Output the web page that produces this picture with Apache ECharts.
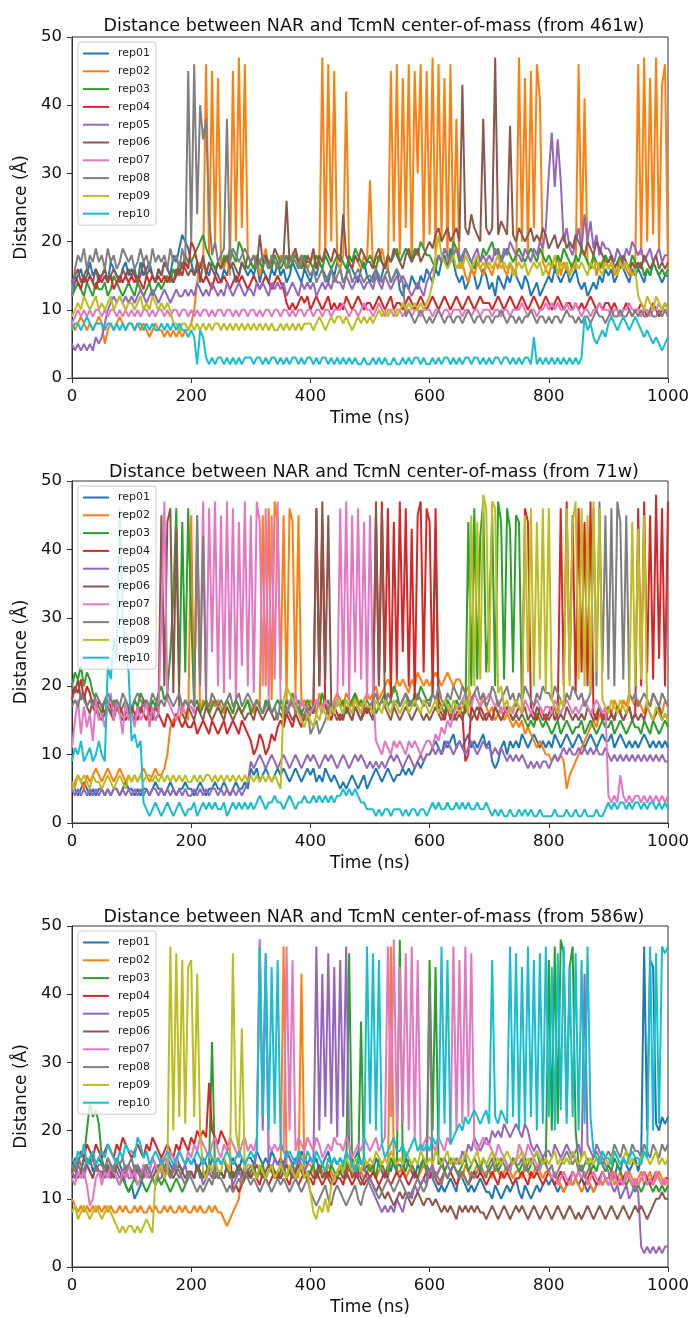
<!DOCTYPE html>
<html>
<head>
<meta charset="utf-8">
<script src="https://cdn.jsdelivr.net/npm/echarts@6/dist/echarts.min.js"></script>
<style>
html,body{margin:0;padding:0;background:#fff;}
#chart{width:696px;height:1318px;}
</style>
</head>
<body>
<div id="chart"></div>
<script>
// ---------- data ----------
const repNames = ['rep01','rep02','rep03','rep04','rep05','rep06','rep07','rep08','rep09','rep10'];
const panelTitles = [
  'Distance between NAR and TcmN center-of-mass (from 461w)',
  'Distance between NAR and TcmN center-of-mass (from 71w)',
  'Distance between NAR and TcmN center-of-mass (from 586w)'
];
const xTicks = [0,200,400,600,800,1000];
const yTicks = [0,10,20,30,40,50];
const times = [0,5,10,15,20,25,30,35,40,45,50,55,60,65,70,75,80,85,90,95,100,105,110,115,120,125,130,135,140,145,150,155,160,165,170,175,180,185,190,195,200,205,210,215,220,225,230,235,240,245,250,255,260,265,270,275,280,285,290,295,300,305,310,315,320,325,330,335,340,345,350,355,360,365,370,375,380,385,390,395,400,405,410,415,420,425,430,435,440,445,450,455,460,465,470,475,480,485,490,495,500,505,510,515,520,525,530,535,540,545,550,555,560,565,570,575,580,585,590,595,600,605,610,615,620,625,630,635,640,645,650,655,660,665,670,675,680,685,690,695,700,705,710,715,720,725,730,735,740,745,750,755,760,765,770,775,780,785,790,795,800,805,810,815,820,825,830,835,840,845,850,855,860,865,870,875,880,885,890,895,900,905,910,915,920,925,930,935,940,945,950,955,960,965,970,975,980,985,990,995,1000];

// panel 1 : from 461w
const a461_01 = [12,14,15,16,14,15,17,15,16,14, 15,16,14,17,16,15,14,16,17,15, 16,15,14,17,15,16,17,15,14,16, 15,17,16,15,18,17,19,21,20,19, 17,15,16,14,17,16,15,17,16,15, 14,16,15,17,16,14,15,17,16,15, 16,15,17,14,16,15,14,16,15,17, 15,16,14,15,17,16,15,14,16,15, 14,16,15,17,16,15,14,16,15,17, 16,14,15,17,16,15,14,16,17,15, 14,15,16,14,15,17,16,14,15,16, 13,12,14,13,15,14,13,15,14,16, 15,14,16,15,17,18,16,19,17,15, 14,15,13,14,16,15,13,14,16,15, 13,14,12,15,14,13,15,14,16,15, 14,13,15,14,12,13,14,12,13,14, 15,14,16,15,14,15,16,14,15,16, 14,13,14,12,13,14,13,15,14,16, 15,16,14,15,17,16,15,14,16,15, 16,15,14,16,15,17,16,15,14,15, 15];
const a461_02 = [8,7,8,9,8,7,8,7,8,9, 8,5,7,8,7,8,9,8,7,8, 8,7,8,7,8,7,6,7,8,7, 7,6,7,6,7,6,7,6,7,7, 8,10,14,17,16,46,18,45,20,44, 17,16,18,15,45,20,47,22,46,18, 17,16,18,15,17,19,16,18,17,16, 18,17,16,18,17,19,16,17,18,16, 17,18,16,17,47,18,46,20,45,17, 16,18,42,17,16,18,17,16,18,17, 29,16,18,17,19,17,16,45,20,46, 18,44,22,46,17,45,30,46,19,45, 21,47,18,46,20,44,17,46,18,38, 16,17,15,14,16,15,17,16,15,17, 16,15,17,16,18,16,15,17,16,15, 47,20,44,18,45,22,46,41,17,16, 15,17,16,18,15,17,16,15,17,16, 46,18,41,17,16,18,15,17,16,18, 16,17,15,16,18,17,16,15,17,16, 46,18,47,20,44,21,47,19,43,46, 16];
const a461_03 = [12,13,14,13,12,14,13,12,14,13, 13,14,12,13,15,14,13,12,13,14, 13,12,14,13,12,13,14,12,13,14, 13,14,15,14,16,15,17,16,18,17, 17,18,19,20,21,19,18,17,16,17, 16,18,17,19,18,17,20,19,17,16, 17,16,18,17,16,18,17,16,18,17, 16,17,18,16,17,18,17,16,18,17, 17,16,18,17,16,18,17,16,17,18, 18,17,16,18,17,19,18,17,16,17, 18,17,16,18,17,16,18,17,18,19, 17,18,19,18,17,19,18,20,19,18, 18,17,16,18,17,19,18,17,20,19, 17,18,19,18,17,16,18,17,19,18, 19,20,18,19,17,18,19,18,17,18, 19,18,17,18,19,18,17,19,18,17, 18,17,16,18,17,19,18,17,16,18, 17,19,18,17,16,18,17,16,17,18, 17,18,16,17,18,16,17,16,18,17, 16,17,15,16,15,17,16,15,16,15, 16];
const a461_04 = [14,15,14,13,15,14,15,14,13,15, 14,15,14,15,13,14,15,14,15,14, 15,14,15,14,13,15,14,15,14,15, 14,15,14,15,14,15,16,15,17,16, 20,19,17,15,14,15,14,13,15,14, 14,15,14,13,14,15,14,15,14,13, 14,15,14,13,14,15,14,13,14,15, 14,13,11,10,11,10,11,12,11,12, 10,11,12,11,10,11,12,10,11,10, 11,10,12,11,10,11,12,11,10,11, 11,10,11,12,11,10,11,12,10,11, 11,10,11,12,11,10,11,12,11,10, 11,12,11,10,11,12,11,10,11,12, 11,10,11,12,11,10,11,12,11,11, 11,10,11,12,11,10,11,12,11,10, 11,12,11,10,11,12,11,10,11,12, 11,10,11,12,11,10,11,11,10,11, 10,11,10,11,12,11,10,11,10,11, 11,10,11,10,9,10,11,10,9,10, 10,11,10,9,10,11,10,9,10,11, 10];
const a461_05 = [5,4,5,4,5,4,5,4,6,5, 6,8,10,11,12,11,12,11,12,11, 12,11,12,13,12,11,12,13,12,11, 12,13,12,11,12,13,12,12,13,12, 13,12,14,13,12,13,12,14,13,12, 13,12,14,13,12,13,14,13,12,13, 13,12,14,13,14,13,12,14,13,14, 13,14,12,13,14,13,12,14,13,14, 13,14,12,13,14,13,14,13,15,14, 14,13,15,14,13,14,15,14,13,14, 14,13,15,14,13,15,14,13,14,15, 14,15,14,13,12,13,14,13,12,14, 15,16,17,18,17,19,18,17,18,19, 18,17,19,18,17,18,19,17,18,17, 18,17,19,18,17,19,18,20,19,18, 18,17,19,18,17,19,18,20,19,22, 30,36,28,35,29,20,22,19,18,20, 22,19,24,20,23,19,21,18,20,19, 19,18,17,19,18,17,19,18,20,19, 18,19,17,18,19,17,18,19,17,18, 18];
const a461_06 = [14,15,16,14,15,16,15,14,16,15, 15,16,14,15,16,15,14,16,15,16, 15,16,14,15,17,15,16,15,14,16, 15,17,16,15,14,16,15,17,16,15, 16,15,17,16,18,15,17,16,15,17, 16,17,18,16,17,16,15,17,16,18, 17,18,16,21,17,18,16,17,19,18, 17,18,26,17,18,19,17,18,16,18, 17,19,16,18,17,19,18,17,19,18, 17,24,18,17,16,18,17,19,18,17, 17,16,18,19,17,16,18,17,19,18, 17,16,18,19,17,18,19,17,18,19, 20,19,21,22,20,21,22,20,21,22, 20,43,22,21,24,22,21,20,38,22, 21,22,47,21,23,22,21,37,21,20, 22,21,20,21,22,20,21,20,22,21, 19,20,21,19,20,21,19,20,19,21, 20,19,18,20,19,18,20,19,18,17, 17,18,16,17,16,18,17,16,17,16, 17,16,18,17,16,17,18,16,17,16, 17];
const a461_07 = [8,9,10,9,10,9,10,9,10,10, 9,10,9,10,10,9,10,9,10,9, 10,9,10,9,10,10,9,10,9,10, 10,9,10,9,10,10,9,10,10,9, 10,9,10,9,10,10,9,10,9,10, 10,9,10,10,9,10,9,10,10,9, 10,10,9,10,9,10,10,9,10,10, 9,10,10,9,10,9,10,10,9,10, 10,9,10,10,9,10,10,9,10,10, 10,11,10,9,10,10,9,10,11,10, 10,9,10,11,10,9,10,10,9,10, 10,9,10,10,9,10,10,9,10,10, 10,9,10,10,9,10,10,9,10,10, 10,9,10,10,9,10,10,9,10,10, 10,9,10,10,9,10,10,9,10,10, 10,11,10,9,10,10,9,10,10,11, 10,11,10,11,10,10,11,10,10,11, 10,9,10,10,9,10,10,11,10,10, 10,9,10,10,9,10,10,11,10,10, 10,9,10,10,9,10,10,11,10,10, 10];
const a461_08 = [12,16,18,17,19,16,18,17,19,17, 18,16,19,17,18,16,17,19,18,17, 18,16,17,19,17,18,16,19,17,18, 17,18,16,19,17,18,16,19,17,45, 20,46,24,40,35,38,24,18,20,17, 18,19,38,17,19,18,17,18,19,18, 17,18,16,17,18,17,16,18,17,16, 17,18,16,17,18,17,16,18,17,16, 15,16,14,15,16,14,15,16,14,15, 16,14,15,16,14,15,16,15,14,15, 15,14,16,15,14,15,16,14,15,16, 15,14,9,10,9,8,9,10,9,8, 9,8,9,10,9,8,9,9,8,9, 9,8,9,10,9,8,9,9,8,9, 9,8,9,9,10,9,8,9,9,8, 9,8,9,9,10,9,8,9,9,8, 9,8,9,9,8,9,10,9,9,8, 9,8,9,9,8,9,10,9,9,8, 9,10,9,9,10,9,9,10,9,10, 9,10,9,9,10,9,9,10,9,10, 9];
const a461_09 = [9,10,11,10,12,11,10,11,12,10, 11,10,11,12,10,11,12,11,10,11, 11,10,11,12,10,11,10,12,11,10, 11,10,11,10,8,8,7,8,8,7, 8,7,8,7,8,7,8,7,8,8, 7,8,7,8,7,8,7,8,7,8, 7,8,7,8,7,8,7,8,7,7, 8,7,8,7,8,7,8,7,8,8, 8,7,8,9,8,7,8,9,8,9, 9,8,9,8,7,8,9,8,9,8, 9,8,9,10,9,10,9,10,10,9, 10,11,10,11,10,11,10,11,10,11, 12,14,18,21,18,17,16,17,18,16, 17,16,18,17,16,17,18,16,17,16, 17,16,17,18,16,17,16,17,15,16, 17,16,17,15,16,17,16,17,15,16, 17,16,18,15,17,16,17,15,16,17, 16,17,16,15,17,16,17,16,15,17, 16,17,16,15,17,16,17,16,15,16, 12,11,10,12,11,10,12,11,10,11, 10];
const a461_10 = [7,8,8,7,8,9,8,7,8,8, 8,7,8,8,7,8,7,8,7,8, 8,7,8,8,7,8,7,8,7,7, 8,7,8,7,8,7,8,7,7,6, 7,6,2,7,6,3,2,3,2,3, 3,2,3,2,3,2,3,2,3,3, 3,2,3,3,2,3,2,3,3,2, 3,2,3,2,3,3,2,3,2,3, 3,2,3,2,3,3,2,3,2,3, 2,3,2,3,2,3,2,2,3,2, 2,3,2,3,2,3,2,2,3,2, 2,3,2,3,2,3,3,2,3,2, 2,3,2,3,2,3,3,2,3,2, 3,2,3,3,2,3,3,2,3,2, 3,2,3,3,2,3,3,2,3,2, 3,2,3,3,2,6,2,3,2,3, 2,3,2,3,2,3,2,3,2,3, 2,3,9,7,8,6,5,6,7,6, 8,9,8,7,8,9,8,7,8,9, 8,7,6,7,6,5,6,5,4,5, 6];

// panel 2 : from 71w
const a71_01 = [6,5,4,5,6,5,4,5,4,5, 5,4,5,4,5,5,4,5,6,5, 5,4,5,4,5,5,4,5,6,5, 5,4,5,6,5,4,5,5,6,5, 5,4,5,6,5,4,5,5,6,5, 5,6,5,4,5,6,5,5,6,5, 8,7,8,6,7,8,7,6,7,8, 7,8,7,6,7,8,7,6,7,8, 7,8,6,7,6,8,7,6,7,6, 5,6,5,6,7,6,5,6,7,5, 6,7,8,7,6,7,8,7,6,7, 7,8,7,8,7,8,9,8,9,10, 10,11,12,11,10,12,11,12,13,11, 12,11,12,13,11,12,11,12,13,11, 12,9,8,9,11,12,10,12,11,12, 11,13,12,11,12,13,12,11,12,11, 12,11,13,12,11,12,13,12,11,12, 13,12,11,12,13,12,11,12,13,12, 12,13,11,12,13,12,11,12,11,12, 11,12,13,12,11,12,11,12,11,12, 11];
const a71_02 = [5,6,7,6,5,7,6,7,8,7, 6,7,8,7,6,7,8,7,6,7, 6,7,6,7,8,7,6,7,8,7, 7,8,10,14,15,16,15,17,16,15, 45,17,41,16,18,17,16,18,17,18, 17,16,18,17,16,18,17,16,17,18, 17,16,18,17,45,20,46,18,47,44, 21,45,18,46,44,19,45,17,18,17, 18,17,16,19,17,18,16,17,18,19, 18,17,19,18,17,19,18,17,18,19, 18,19,20,18,19,20,21,20,19,21, 20,21,20,19,21,20,22,21,20,21, 20,21,22,21,20,21,22,21,20,21, 21,20,19,20,18,19,18,17,18,17, 16,17,15,16,17,15,16,15,14,15, 14,15,13,14,13,12,11,12,11,10, 10,9,10,9,10,9,5,7,8,9, 10,11,12,13,14,15,14,16,15,16, 17,16,18,17,16,18,17,19,18,17, 18,17,16,18,17,19,18,17,16,18, 17];
const a71_03 = [20,22,21,23,20,22,21,19,18,17, 16,18,17,16,18,17,16,17,18,16, 16,18,17,19,18,17,16,18,17,19, 20,18,19,25,33,46,20,44,22,46, 30,17,18,16,17,18,16,17,18,17, 16,17,18,17,16,18,17,16,17,18, 16,17,18,17,16,18,17,16,17,18, 17,16,18,17,19,17,18,16,17,18, 17,16,18,17,19,17,18,16,17,18, 17,18,16,17,18,19,17,18,17,16, 17,18,16,17,18,19,17,18,20,19, 17,18,19,18,17,19,18,20,19,18, 18,19,43,18,17,16,18,17,16,18, 17,18,16,44,20,46,21,42,47,22, 30,45,20,47,44,21,46,43,22,45, 44,16,15,14,15,14,16,15,14,15, 14,13,14,15,13,14,15,14,13,14, 14,15,13,14,15,14,13,14,15,14, 14,15,13,14,15,14,13,14,15,14, 14,13,15,14,13,15,14,13,14,15, 14];
const a71_04 = [18,20,19,21,18,20,19,17,16,18, 17,16,18,17,16,18,17,16,15,16, 17,16,15,17,16,15,17,16,15,16, 15,14,16,15,14,16,15,14,15,14, 14,15,13,14,15,14,13,15,14,13, 14,15,13,14,15,14,13,15,14,13, 12,10,11,13,12,10,11,13,12,14, 15,14,16,15,14,16,15,14,16,15, 16,17,46,20,44,17,16,15,17,16, 15,16,17,16,15,17,16,15,17,16, 17,16,45,20,47,22,46,18,44,21, 47,25,46,20,43,18,45,47,22,46, 44,19,46,17,16,15,17,16,15,16, 17,16,9,10,17,16,15,17,16,15, 16,15,17,16,15,16,17,16,15,16, 17,16,46,44,17,16,15,17,16,15, 16,17,15,16,46,20,47,21,45,19, 46,22,44,20,47,16,15,17,16,15, 17,16,15,17,16,15,16,17,15,16, 46,20,47,22,45,21,48,24,46,20, 47];
const a71_05 = [5,4,5,4,5,4,5,4,5,4, 5,4,5,4,5,5,4,5,4,5, 4,5,4,5,4,5,4,5,5,4, 5,4,5,4,5,4,5,4,5,4, 4,5,4,5,4,5,4,5,5,4, 5,4,5,4,5,4,5,4,5,6, 9,8,9,10,9,8,9,10,9,8, 9,10,9,8,9,10,9,8,9,10, 9,10,9,8,9,10,9,10,9,8, 9,10,9,8,9,10,9,10,9,8, 9,8,9,8,9,8,9,10,9,10, 9,8,9,10,9,8,9,10,9,10, 10,11,10,11,10,11,12,11,10,11, 12,11,10,11,12,11,10,11,12,11, 11,10,11,10,11,10,9,10,9,10, 9,10,9,8,9,8,9,8,9,9, 8,9,10,9,10,11,10,11,10,10, 11,10,11,10,11,10,11,10,10,11, 10,9,10,9,10,9,10,9,10,9, 10,9,10,9,10,9,10,9,10,9, 9];
const a71_06 = [20,19,21,18,19,17,16,18,17,16, 15,16,17,16,15,17,16,15,16,17, 16,15,17,16,18,17,16,15,17,16, 45,20,44,46,19,43,17,16,15,17, 16,15,17,16,15,17,16,15,16,17, 16,15,17,16,15,16,17,16,15,16, 16,15,17,16,15,16,17,16,15,16, 16,15,17,16,15,16,17,16,15,16, 17,16,46,20,47,21,45,17,16,15, 16,15,17,16,15,17,16,15,16,17, 16,15,47,20,46,17,16,15,17,16, 15,16,17,16,15,16,17,16,15,16, 15,16,17,16,15,16,17,15,16,15, 16,15,17,16,15,16,17,16,15,16, 16,15,17,16,15,16,17,16,15,16, 15,16,17,15,16,15,17,16,15,16, 15,16,17,15,16,15,17,16,15,16, 15,16,15,17,16,15,16,17,15,16, 15,16,15,17,16,15,16,17,15,16, 15,16,15,17,16,15,16,17,15,16, 15];
const a71_07 = [11,15,18,13,17,14,16,12,18,15, 16,14,17,19,15,18,16,13,18,15, 16,14,17,15,16,18,14,17,15,16, 30,47,18,17,16,15,17,16,18,17, 17,16,45,22,47,18,46,25,47,20, 45,19,47,21,46,18,44,23,47,20, 45,19,47,44,20,46,18,45,21,47, 18,17,16,18,17,19,16,18,17,16, 16,17,18,17,16,18,17,16,18,17, 46,20,47,18,45,22,46,21,44,18, 45,20,12,11,10,12,11,10,12,11, 12,11,10,12,11,12,11,10,11,12, 12,11,13,12,14,13,15,14,16,17, 17,18,19,18,17,19,18,17,19,18, 19,18,17,18,16,17,16,17,16,18, 17,16,18,17,16,17,18,17,16,17, 17,16,18,17,16,17,18,17,16,17, 16,17,18,17,16,17,18,17,16,17, 4,3,4,3,7,4,3,4,3,4, 4,3,4,3,4,3,4,3,4,3, 4];
const a71_08 = [17,18,17,19,18,17,18,17,19,18, 17,18,19,18,17,18,17,19,18,17, 17,18,19,18,17,18,17,19,18,17, 18,17,19,18,17,18,19,17,18,17, 18,17,45,20,42,18,17,19,18,17, 18,17,18,19,17,18,19,17,18,19, 18,17,18,17,16,17,18,16,17,15, 18,17,16,17,18,16,17,15,16,17, 13,14,15,13,14,15,17,16,17,18, 17,16,18,17,16,18,17,16,17,18, 17,18,19,17,18,17,19,18,17,18, 17,18,19,17,18,17,19,18,17,18, 17,19,18,20,18,17,19,18,20,19, 18,20,19,17,18,19,20,18,19,17, 18,20,19,17,18,19,20,18,19,17, 19,18,20,19,18,17,19,18,20,19, 19,18,20,19,18,17,19,18,20,19, 18,19,17,18,19,46,20,47,22,45, 21,46,20,47,44,21,45,19,18,19, 17,18,19,18,17,19,18,17,19,18, 17];
const a71_09 = [6,5,7,6,7,6,5,7,6,6, 5,6,7,6,5,6,7,6,5,7, 6,7,6,7,6,7,7,6,7,6, 7,6,7,6,7,6,7,6,7,6, 6,7,6,7,6,7,7,6,7,6, 7,6,7,6,7,6,7,6,7,6, 7,6,7,6,7,6,7,6,7,6, 5,18,20,19,18,17,16,15,14,16, 15,14,16,15,17,16,15,17,16,18, 17,16,18,17,16,18,17,16,18,17, 17,16,18,17,16,18,17,16,18,17, 16,17,18,16,17,18,17,16,18,17, 16,17,18,16,17,18,17,16,18,17, 16,17,18,16,45,20,44,21,48,46, 22,47,46,19,20,17,18,16,17,18, 17,16,45,22,46,20,44,21,46,19, 46,18,17,16,18,17,46,20,44,47, 21,46,20,45,19,47,22,46,18,17, 16,18,17,16,18,17,16,18,44,20, 43,21,45,17,16,15,17,16,15,16, 15];
const a71_10 = [9,11,10,12,9,10,11,9,10,12, 10,9,23,21,27,24,46,30,25,22, 12,13,11,12,3,2,1,2,3,2, 1,2,3,2,1,2,3,2,1,2, 2,3,1,2,3,2,3,2,3,2, 2,3,1,2,3,2,3,2,3,2, 3,2,3,4,3,2,3,3,4,3, 3,2,3,4,3,2,3,3,4,3, 3,4,3,4,3,4,3,4,3,4, 4,5,4,5,4,5,4,3,3,2, 2,2,1,2,1,2,2,1,2,2, 2,1,2,1,2,2,1,2,2,1, 2,3,2,3,2,2,3,2,2,3, 2,3,2,3,2,2,3,2,2,3, 2,1,2,1,2,1,1,2,1,1, 2,1,2,1,2,1,1,2,1,1, 1,1,2,1,1,1,2,1,1,2, 1,1,2,1,1,1,2,1,1,2, 3,2,3,2,3,3,2,3,2,3, 3,2,3,2,3,3,2,3,2,3, 2];

// panel 3 : from 586w
const a586_01 = [15,14,16,15,14,15,16,14,15,16, 15,14,16,15,14,16,15,14,12,11, 12,10,11,12,14,15,14,16,15,14, 15,14,16,15,14,16,15,14,15,16, 15,16,14,15,16,15,14,16,15,16, 15,16,14,15,16,15,14,16,15,16, 16,15,17,16,15,16,15,17,16,15, 16,15,17,16,15,16,15,17,16,15, 16,15,16,14,15,16,17,15,16,15, 16,15,16,14,15,16,17,15,16,15, 15,14,16,15,14,13,15,14,16,15, 15,14,16,15,14,13,15,14,16,15, 14,13,12,11,12,11,12,13,12,11, 14,13,12,11,12,11,12,13,12,11, 11,10,12,11,10,11,12,11,12,13, 11,10,12,11,10,11,12,11,12,13, 12,13,12,11,12,11,12,13,12,13, 12,13,12,11,12,11,12,13,12,13, 13,14,13,15,14,16,15,14,15,16, 14,16,47,20,45,44,21,20,22,21, 22];
const a586_02 = [10,9,8,9,8,9,8,9,8,9, 8,9,8,9,8,8,9,8,9,8, 8,9,8,9,8,8,9,8,9,8, 8,9,8,9,8,8,9,8,9,8, 8,9,8,9,8,8,9,8,9,8, 8,7,6,7,8,9,10,14,13,14, 14,15,13,14,15,13,14,15,14,13, 14,47,15,14,15,14,13,43,14,15, 15,14,13,15,14,13,15,14,13,14, 15,14,13,15,14,13,15,14,13,14, 15,14,13,14,15,14,13,47,15,14, 14,15,13,14,15,14,13,14,15,14, 14,15,13,14,15,14,13,14,15,14, 14,13,15,14,13,14,15,14,13,14, 14,13,15,14,13,14,15,14,13,14, 14,13,15,14,13,14,15,14,13,14, 14,13,12,13,12,11,12,13,12,13, 12,11,12,13,12,11,12,13,12,13, 13,14,12,13,14,12,13,14,13,12, 13,14,12,13,14,12,13,14,13,12, 13];
const a586_03 = [14,13,15,14,16,20,24,22,23,21, 16,14,15,13,14,13,12,13,12,11, 12,13,12,13,12,11,12,13,12,13, 12,13,12,11,12,13,12,11,12,13, 14,13,15,13,14,13,15,33,14,13, 14,13,15,13,14,13,15,14,14,13, 14,15,13,14,15,13,14,15,14,13, 14,15,13,14,15,13,14,15,14,13, 14,15,13,14,15,14,13,15,14,13, 14,15,13,46,15,14,13,36,14,15, 14,15,13,16,15,14,13,16,15,14, 48,15,14,16,15,14,13,15,16,14, 45,20,44,15,16,14,15,16,15,14, 14,15,16,14,15,16,15,14,16,15, 14,15,16,14,15,16,15,14,16,15, 14,15,16,14,15,16,17,15,16,15, 45,20,47,21,48,46,22,44,47,20, 15,14,15,16,14,15,14,16,15,14, 15,14,16,15,14,13,12,13,12,11, 12,11,12,13,12,11,12,11,12,11, 12];
const a586_04 = [14,16,15,17,16,18,17,16,18,17, 16,17,18,17,16,18,17,19,18,17, 16,17,18,17,16,18,17,19,18,17, 16,17,18,17,16,18,17,19,18,17, 19,18,20,19,20,19,27,20,19,18, 20,19,18,17,11,12,11,12,13,14, 13,14,13,12,14,13,12,13,14,13, 13,14,13,12,14,13,12,13,14,13, 13,12,14,13,12,13,14,13,12,13, 13,12,14,13,12,13,14,13,12,13, 13,14,13,12,13,14,13,12,13,14, 13,14,13,12,13,14,13,12,13,14, 13,14,13,12,13,14,13,14,13,12, 13,14,13,12,13,14,13,14,13,12, 13,14,13,12,14,13,14,13,12,13, 13,14,13,12,14,13,14,13,12,13, 14,13,12,13,14,13,12,13,14,13, 14,13,12,13,14,13,12,13,14,13, 12,13,14,13,12,13,14,13,12,13, 12,13,14,13,12,13,14,13,12,13, 13];
const a586_05 = [14,13,15,14,13,15,14,13,15,14, 13,15,14,13,15,14,13,14,15,13, 13,15,14,13,15,14,13,14,15,13, 13,15,14,13,15,14,13,14,15,13, 14,13,15,14,12,13,14,13,15,14, 14,13,15,14,12,13,14,13,15,14, 15,14,17,48,20,44,15,14,16,15, 15,14,17,16,15,14,16,15,14,15, 16,15,47,20,43,22,46,21,44,19, 45,22,47,18,14,15,13,14,15,13, 12,11,10,9,8,9,8,9,8,10, 9,8,10,11,10,12,11,12,13,12, 14,15,13,14,15,16,15,14,15,16, 15,17,16,18,17,19,18,17,18,19, 18,20,19,20,19,21,20,19,20,21, 20,19,21,20,18,17,18,17,16,17, 17,16,18,17,16,17,18,17,16,17, 18,16,43,18,17,16,18,17,16,15, 14,12,11,12,10,11,12,10,11,12, 11,3,2,3,2,3,2,3,2,3, 3];
const a586_06 = [14,15,13,14,16,15,14,13,15,14, 14,13,15,14,13,15,14,13,14,15, 14,13,15,14,13,15,14,13,14,15, 14,13,15,14,13,14,15,14,13,14, 14,13,15,14,13,14,15,14,13,14, 14,13,15,14,13,14,15,14,13,14, 13,14,15,14,13,14,15,14,13,14, 13,14,15,14,13,14,15,14,13,14, 14,13,14,15,13,14,13,12,13,14, 14,13,14,15,13,14,13,12,13,14, 13,12,11,12,11,10,11,10,9,10, 11,10,11,10,9,10,11,10,9,10, 10,9,10,9,8,9,8,9,8,7, 9,8,9,8,9,8,9,8,8,7, 8,9,8,7,8,9,8,7,8,9, 8,9,8,7,8,9,8,7,8,9, 8,7,8,9,8,7,8,9,8,7, 8,7,8,9,8,7,8,9,8,7, 8,9,8,7,8,9,8,7,8,9, 8,9,8,7,8,9,10,10,11,10, 10];
const a586_07 = [13,12,14,13,14,12,9,10,13,14, 12,14,13,15,14,13,12,14,13,15, 13,14,12,13,15,13,14,16,15,14, 14,16,15,17,16,15,17,16,15,17, 16,18,17,19,18,17,16,18,19,17, 16,18,17,19,18,17,16,18,19,17, 18,17,19,48,22,46,18,17,18,17, 18,17,47,20,45,17,19,18,17,19, 18,17,19,18,16,17,18,17,19,18, 18,17,19,18,16,17,18,17,19,18, 17,18,19,17,18,19,47,22,48,20, 44,21,46,20,47,19,45,17,18,19, 19,18,17,19,18,17,19,18,47,20, 45,21,47,22,46,18,17,18,19,18, 18,17,16,18,17,16,15,14,16,15, 18,17,16,18,17,16,15,14,16,15, 14,13,14,12,13,14,13,12,14,13, 14,13,14,12,13,14,13,12,14,13, 12,13,14,12,13,12,14,13,12,13, 12,13,14,12,13,12,14,13,12,13, 12];
const a586_08 = [15,14,16,15,14,16,15,16,14,15, 15,14,16,15,14,16,15,16,14,15, 16,14,15,13,14,15,14,13,12,14, 16,14,15,13,14,15,14,13,12,14, 13,12,11,12,11,12,13,12,14,13, 13,12,11,12,11,12,13,12,14,13, 12,13,12,11,12,13,12,11,12,13, 12,13,12,11,12,13,12,11,12,13, 11,10,9,10,11,12,10,9,11,12, 11,10,9,10,11,12,10,9,11,12, 13,12,11,10,11,12,13,12,11,12, 13,12,11,10,11,12,13,12,11,12, 41,13,14,13,12,14,13,14,15,14, 13,14,13,12,14,13,14,15,14,13, 15,16,14,15,16,15,14,15,16,15, 15,16,14,15,16,15,14,15,16,15, 14,15,13,14,15,16,17,16,15,16, 14,15,13,14,15,16,17,16,15,16, 17,16,18,17,16,18,17,16,18,17, 17,16,18,17,16,18,17,16,18,17, 18];
const a586_09 = [8,9,7,8,9,8,7,8,9,8, 7,8,9,8,7,6,5,6,5,6, 6,5,6,5,6,7,6,5,13,14, 15,13,14,47,20,46,22,45,21,44, 45,22,43,20,14,13,15,14,16,14, 14,16,15,14,46,20,17,35,14,15, 15,14,13,15,14,13,14,15,13,14, 15,14,13,15,14,13,14,15,13,14, 11,8,7,9,8,10,8,12,13,14, 15,14,16,15,14,16,15,14,16,15, 16,15,17,16,15,16,15,17,16,15, 16,15,17,16,15,16,15,17,16,15, 16,15,17,16,15,16,17,15,16,15, 16,15,17,16,15,16,17,15,16,15, 16,17,15,16,15,16,17,16,15,16, 16,17,15,16,15,16,17,16,15,16, 15,16,17,15,16,15,16,15,17,16, 15,16,17,15,16,15,16,15,17,16, 15,16,17,16,15,16,17,15,16,15, 15,16,17,16,15,16,17,15,16,15, 16];
const a586_10 = [16,15,17,16,18,15,16,17,15,16, 17,16,18,17,16,15,17,16,18,17, 17,16,19,18,16,17,15,16,17,16, 15,16,17,16,15,16,17,16,15,16, 15,16,17,16,15,16,17,16,15,16, 15,16,17,16,15,16,17,16,15,16, 17,16,17,47,22,46,20,44,21,45, 18,17,16,17,16,15,17,16,15,17, 16,15,17,16,15,14,16,15,16,15, 16,15,17,16,15,14,16,15,16,47, 21,46,20,45,18,16,17,18,19,17, 17,18,16,17,18,19,17,18,17,18, 17,19,18,19,47,21,45,18,19,20, 21,20,22,21,22,23,22,21,22,23, 21,45,22,21,23,22,21,47,22,46, 20,44,21,47,22,45,20,46,21,47, 22,44,20,46,23,47,21,44,22,46, 20,45,21,47,22,17,16,15,17,16, 16,15,17,16,15,16,15,16,17,16, 16,15,17,16,47,20,46,21,47,46, 47];

// ---------- chart ----------
const colors = ['#1f77b4','#ff7f0e','#2ca02c','#d62728','#9467bd','#8c564b','#e377c2','#7f7f7f','#bcbd22','#17becf'];
const panelData = [
  [a461_01,a461_02,a461_03,a461_04,a461_05,a461_06,a461_07,a461_08,a461_09,a461_10],
  [a71_01,a71_02,a71_03,a71_04,a71_05,a71_06,a71_07,a71_08,a71_09,a71_10],
  [a586_01,a586_02,a586_03,a586_04,a586_05,a586_06,a586_07,a586_08,a586_09,a586_10]
];
const gridTops = [37, 481, 926];
const gridHeights = [341, 342, 341];
const titleTops = [12, 458, 903];
const FONT = 'DejaVu Sans';

const grids = [], xAxes = [], yAxes = [], titles = [], legends = [], series = [];
for (let p = 0; p < 3; p++) {
  grids.push({left: 72, width: 596, top: gridTops[p], height: gridHeights[p], show: true, borderColor: '#333', borderWidth: 1, backgroundColor: 'transparent'});
  titles.push({text: panelTitles[p], left: 369, top: titleTops[p], textAlign: 'center',
    textStyle: {fontFamily: FONT, fontSize: 17.5, fontWeight: 'normal', color: '#111'}});
  xAxes.push({type: 'value', gridIndex: p, min: xTicks[0], max: xTicks[xTicks.length-1], interval: xTicks[1]-xTicks[0],
    name: 'Time (ns)', nameLocation: 'middle', nameGap: 32,
    nameTextStyle: {fontFamily: FONT, fontSize: 17, color: '#111'},
    axisLine: {show: true, lineStyle: {color: '#333', width: 1}},
    axisTick: {show: true, inside: false, length: 5, lineStyle: {color: '#333'}},
    axisLabel: {fontFamily: FONT, fontSize: 16.5, color: '#111', margin: 10, formatter: v => String(v)},
    splitLine: {show: false}});
  yAxes.push({type: 'value', gridIndex: p, min: yTicks[0], max: yTicks[yTicks.length-1], interval: yTicks[1]-yTicks[0],
    name: 'Distance (Å)', nameLocation: 'middle', nameGap: 41,
    nameTextStyle: {fontFamily: FONT, fontSize: 17, color: '#111'},
    axisLine: {show: true, lineStyle: {color: '#333', width: 1}},
    axisTick: {show: true, inside: false, length: 5, lineStyle: {color: '#333'}},
    axisLabel: {fontFamily: FONT, fontSize: 16.5, color: '#111', margin: 10},
    splitLine: {show: false}});
  legends.push({orient: 'vertical', left: 78, top: gridTops[p] + 5, data: repNames,
    icon: 'rect', itemWidth: 26, itemHeight: 2, itemGap: 4.8,
    backgroundColor: 'rgba(255,255,255,0.8)', borderColor: '#cccccc', borderWidth: 1, borderRadius: 3,
    padding: [5, 6, 5, 5], selectedMode: false, z: 10,
    textStyle: {fontFamily: FONT, fontSize: 11, color: '#222', lineHeight: 13, padding: [0, 0, 0, 4]}});
  for (let s = 0; s < 10; s++) {
    const vals = panelData[p][s];
    series.push({type: 'line', name: repNames[s], xAxisIndex: p, yAxisIndex: p,
      data: times.map((t, i) => [t, vals[i]]),
      symbol: 'none', showSymbol: false, smooth: false, clip: true,
      lineStyle: {width: 2, color: colors[s]}, itemStyle: {color: colors[s]},
      emphasis: {disabled: true}, z: 2});
  }
}

const chart = echarts.init(document.getElementById('chart'), null, {renderer: 'canvas'});
chart.setOption({
  animation: false,
  backgroundColor: '#ffffff',
  color: colors,
  title: titles,
  grid: grids,
  xAxis: xAxes,
  yAxis: yAxes,
  legend: legends,
  series: series
});
</script>
</body>
</html>
